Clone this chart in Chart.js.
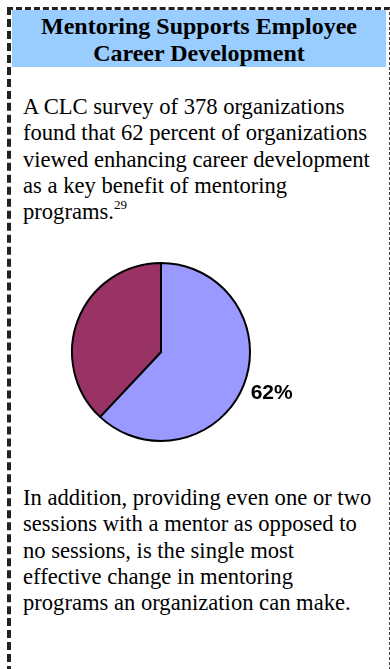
<!DOCTYPE html>
<html>
<head>
<meta charset="utf-8">
<script src="https://cdn.jsdelivr.net/npm/chart.js@4.4.0/dist/chart.umd.min.js"></script>
<style>
  html, body { margin: 0; padding: 0; background: #fff; }
  body { width: 390px; height: 669px; position: relative; overflow: hidden; font-family: "Times New Roman", "Liberation Serif", serif; color: #000; }
  .frame { position: absolute; left: 7px; top: 7px; width: 378px; height: 700px;
    border-left: 4px dashed #222; border-top: 3px dashed #222; border-right: 1px dashed #444; }
  .title { position: absolute; left: 12px; top: 10px; width: 374px; height: 57px; background: #99ccff;
    font-weight: bold; font-size: 24px; line-height: 27px; text-align: center; padding-top: 3px; box-sizing: border-box; white-space: nowrap; }
  .para { position: absolute; left: 23px; font-size: 22.6px; line-height: 26.3px; white-space: nowrap; }
  .para sup { font-size: 13px; vertical-align: 0; position: relative; top: -10px; }
  #wrap { position: absolute; left: 40px; top: 250px; width: 320px; height: 204px; }
</style>
</head>
<body>
<div class="frame"></div>
<div class="title">Mentoring Supports Employee<br>Career Development</div>
<div class="para" style="top:94px">A CLC survey of 378 organizations<br>found that 62 percent of organizations<br>viewed enhancing career development<br>as a key benefit of mentoring<br>programs.<sup>29</sup></div>
<div id="wrap"><canvas id="pie"></canvas></div>
<div class="para" style="top:485px">In addition, providing even one or two<br>sessions with a mentor as opposed to<br>no sessions, is the single most<br>effective change in mentoring<br>programs an organization can make.</div>
<script>
const categories = ["Viewed enhancing career development as a key benefit", "Other"];
const values = [62, 38];
const sliceColors = ["#9999ff", "#993366"];
const shownLabels = ["62%", ""];

// draws the percentage outside the slice
const outsideLabels = {
  id: "outsideLabels",
  afterDatasetsDraw(chart) {
    const ctx = chart.ctx;
    const arcs = chart.getDatasetMeta(0).data;
    ctx.save();
    ctx.font = "bold 21px 'Liberation Sans', Arial, sans-serif";
    ctx.fillStyle = "#000";
    ctx.textAlign = "center";
    ctx.textBaseline = "middle";
    arcs.forEach((arc, i) => {
      if (!shownLabels[i]) return;
      const mid = (arc.startAngle + arc.endAngle) / 2;
      const d = arc.outerRadius + 30;
      ctx.fillText(shownLabels[i], arc.x + Math.cos(mid) * d, arc.y + Math.sin(mid) * d - 3);
    });
    ctx.restore();
  }
};

new Chart(document.getElementById("pie"), {
  type: "pie",
  data: {
    labels: categories,
    datasets: [{
      data: values,
      backgroundColor: sliceColors,
      borderColor: "#000",
      borderWidth: 2
    }]
  },
  options: {
    responsive: true,
    maintainAspectRatio: false,
    animation: false,
    layout: { padding: { left: 31, right: 109, top: 12, bottom: 12 } },
    plugins: { legend: { display: false }, tooltip: { enabled: false } }
  },
  plugins: [outsideLabels]
});
</script>
</body>
</html>
